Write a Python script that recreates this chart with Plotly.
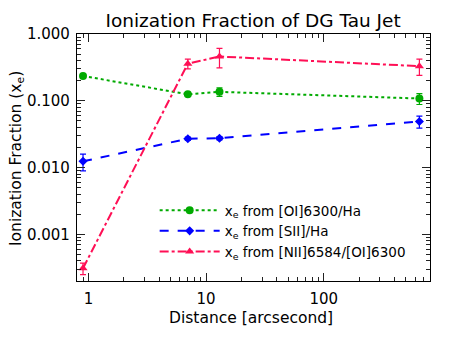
import numpy as np
import plotly.graph_objects as go

# ---- data ----
dist = [0.9, 7.0, 13.0, 650.0]

xe_oi = [0.235, 0.125, 0.136, 0.108]
xe_oi_err = [0.0, 0.006, 0.02, 0.02]

xe_sii = [0.0124, 0.027, 0.0275, 0.049]
xe_sii_err = [0.0035, 0.0015, 0.0015, 0.01]

xe_nii = [0.00031, 0.36, 0.46, 0.33]
xe_nii_err = [0.00006, 0.06, 0.15, 0.09]

y_ticks = [0.001, 0.01, 0.1, 1.0]
y_labels = ["0.001", "0.010", "0.100", "1.000"]
x_ticks = [1, 10, 100]
x_labels = ["1", "10", "100"]

FONT = "DejaVu Sans"
INK = "#000"
GREEN = "#00aa00"
BLUE = "#0000ff"
RED = "#ff0f55"

fig = go.Figure()

series = [
    ("x<sub>e</sub> from [OI]6300/Ha", xe_oi, xe_oi_err, GREEN, "dot", "circle", 8),
    ("x<sub>e</sub> from [SII]/Ha", xe_sii, xe_sii_err, BLUE, "dash", "diamond", 7),
    ("x<sub>e</sub> from [NII]6584/[OI]6300", xe_nii, xe_nii_err, RED, "dashdot", "triangle-up", 8),
]
for name, y, err, col, dash, sym, size in series:
    fig.add_trace(go.Scatter(
        x=dist, y=y, name=name, mode="lines+markers",
        line=dict(color=col, width=2, dash=dash),
        marker=dict(color=col, symbol=sym, size=size),
        error_y=dict(type="data", array=err, visible=True,
                     color=col, thickness=1.2, width=3),
    ))

# minor tick positions (2..9 per decade)
x_minor = [m * 10 ** d for d in range(-1, 3) for m in range(2, 10)]
y_minor = [m * 10 ** d for d in range(-4, 0) for m in range(2, 10)]

axis_common = dict(
    type="log", showgrid=False, zeroline=False, automargin=False,
    showline=True, linecolor=INK, linewidth=1.2,
    mirror="allticks", ticks="inside", tickcolor="#222",
    tickfont=dict(family=FONT, size=15, color=INK),
)

fig.update_xaxes(
    range=[np.log10(0.8), np.log10(800)],
    tickvals=x_ticks, ticktext=x_labels, ticklen=8, ticklabelstandoff=4,
    minor=dict(tickvals=x_minor, ticks="inside", ticklen=4, tickcolor="#222"),
    **axis_common,
)
fig.update_yaxes(
    range=[np.log10(2.0e-4), 0.0],
    tickvals=y_ticks, ticktext=y_labels, ticklen=8, ticklabelstandoff=3,
    minor=dict(tickvals=y_minor, ticks="inside", ticklen=4, tickcolor="#222"),
    **axis_common,
)

# axis titles
fig.add_annotation(text="Distance [arcsecond]", xref="paper", yref="paper",
                   x=0.493, y=-0.15, xanchor="center", yanchor="middle",
                   showarrow=False, font=dict(family=FONT, size=15.5, color=INK))
fig.add_annotation(text="Ionization Fraction (x<sub>e</sub>)", xref="paper", yref="paper",
                   x=-0.17, y=0.498, xanchor="center", yanchor="middle", textangle=-90,
                   showarrow=False, font=dict(family=FONT, size=15.5, color=INK))

# page body adds an 8px offset, so the figure is 8px smaller than the window
fig.update_layout(
    width=444, height=331,
    margin=dict(l=69, r=22, t=26, b=58),
    paper_bgcolor="white", plot_bgcolor="white",
    title=dict(text="Ionization Fraction of DG Tau Jet", x=0.552, xanchor="center",
               y=0.962, yanchor="middle",
               font=dict(family=FONT, size=18.5, color=INK)),
    showlegend=True,
    legend=dict(x=0.22, y=0.348, xanchor="left", yanchor="top",
                bgcolor="rgba(0,0,0,0)", borderwidth=0,
                font=dict(family=FONT, size=13.5, color=INK),
                itemwidth=60, tracegroupgap=0),
)

fig.write_html("out.html")
